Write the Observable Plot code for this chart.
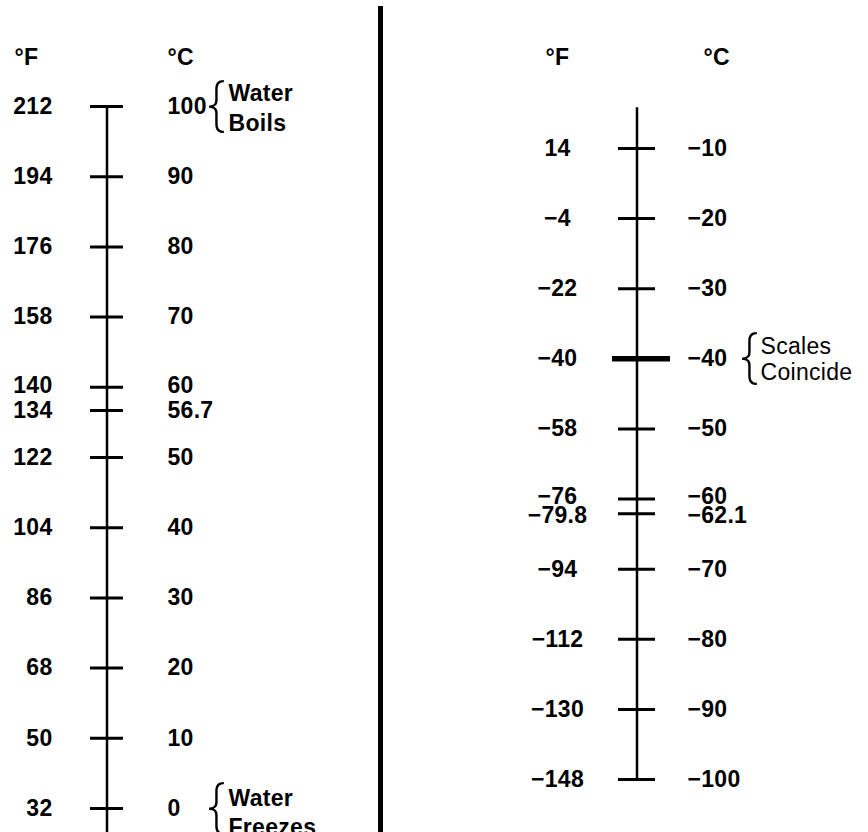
<!DOCTYPE html>
<html><head><meta charset="utf-8">
<script src="https://cdn.jsdelivr.net/npm/d3@7"></script>
<script src="https://cdn.jsdelivr.net/npm/@observablehq/plot@0.6"></script>
<style>
html,body{margin:0;padding:0;background:#fff;}
#wrap{position:relative;width:868px;height:832px;overflow:hidden;background:#fff;}
#left,#right{position:absolute;top:0;}
#left{left:0;z-index:2;}
#right{left:380px;z-index:1;}
</style></head><body><div id="wrap"><div id="left"></div><div id="right"></div></div>
<script>
const leftFahrenheit = [212, 194, 176, 158, 140, 134, 122, 104, 86, 68, 50, 32];
const leftCelsius = [100, 90, 80, 70, 60, 56.7, 50, 40, 30, 20, 10, 0];
const rightFahrenheit = [14, -4, -22, -40, -58, -76, -79.8, -94, -112, -130, -148];
const rightCelsius = [-10, -20, -30, -40, -50, -60, -62.1, -70, -80, -90, -100];
const leftScaleExtent = [100, -3.5];
const rightScaleExtent = [-4.2, -100];
const leftNotes = [{c: 100, text: "Water\nBoils"}, {c: 0, text: "Water\nFreezes"}];
const rightNotes = [{c: -40, text: "Scales\nCoincide"}];
const coincide = [-40];
const unitLabels = ["°F", "°C"];

const fmt = d => String(d).replace("-", "\u2212");
const font = "'Liberation Sans', Arial, Helvetica, sans-serif";
const baseStyle = {fontFamily: font, fontSize: "23px", fontWeight: "bold", letterSpacing: "0.3px", color: "#000", background: "transparent", overflow: "visible"};
const braceOpts = {text: () => "{", frameAnchor: "right", textAnchor: "middle", fontSize: 58, fontWeight: 200, fontFamily: "Inter, 'Open Sans', 'DejaVu Sans'", fill: "#000"};

// labels of closely spaced ticks are nudged apart slightly, as in the original
const leftNudge = c => (c === 60 ? -2 : 0);
const rightNudge = c => (c === -60 ? -2 : c === -62.1 ? 2 : 0);

function labelMarks(values, labelOf, nudge, opts) {
  const groups = [...new Set(values.map(nudge))];
  return groups.map(n => Plot.text(values, {filter: d => nudge(d) === n, y: d => d, text: (d) => labelOf(d), dy: n, fill: "#000", ...opts}));
}

const left = Plot.plot({
  width: 384, height: 832,
  marginTop: 6, marginBottom: 0, marginLeft: 90, marginRight: 261,
  x: {domain: [-1, 1], axis: null},
  y: {domain: [0, 100], range: [808, 106], axis: null},
  style: baseStyle,
  marks: [
    Plot.ruleX([leftScaleExtent], {x: () => 0, y1: d => d[0], y2: d => d[1], stroke: "#000", strokeWidth: 2.5}),
    Plot.tickY(leftCelsius, {y: d => d, stroke: "#000", strokeWidth: 3}),
    ...labelMarks(leftCelsius, d => fmt(leftFahrenheit[leftCelsius.indexOf(d)]), leftNudge, {frameAnchor: "left", textAnchor: "end", dx: -38}),
    ...labelMarks(leftCelsius, d => fmt(d), leftNudge, {frameAnchor: "right", textAnchor: "start", dx: 44}),
    Plot.text([unitLabels[0]], {text: d => d, frameAnchor: "top-left", textAnchor: "start", lineAnchor: "middle", dx: -76, dy: 51, fill: "#000"}),
    Plot.text([unitLabels[1]], {text: d => d, frameAnchor: "top-right", textAnchor: "start", lineAnchor: "middle", dx: 44, dy: 51, fill: "#000"}),
    Plot.text(leftNotes, {y: d => d.c, dx: 93, ...braceOpts}),
    Plot.text(leftNotes, {filter: d => d.c > 50, y: d => d.c, text: d => d.text, frameAnchor: "right", textAnchor: "start", dx: 105, lineHeight: 1.3, fill: "#000"}),
    Plot.text(leftNotes, {filter: d => d.c <= 50, y: d => d.c, text: d => d.text, frameAnchor: "right", textAnchor: "start", dx: 105, dy: 3, lineHeight: 1.25, fill: "#000"}),
    Plot.ruleX([1], {x: d => d, dx: 257, stroke: "#000", strokeWidth: 5})
  ]
});
document.getElementById("left").appendChild(left);

const right = Plot.plot({
  width: 488, height: 832,
  marginTop: 0, marginBottom: 0, marginLeft: 238, marginRight: 213,
  x: {domain: [-1, 1], axis: null},
  y: {domain: [-100, -10], range: [779, 148], axis: null},
  style: baseStyle,
  marks: [
    Plot.ruleX([rightScaleExtent], {x: () => 0, y1: d => d[0], y2: d => d[1], stroke: "#000", strokeWidth: 2.5}),
    Plot.tickY(rightCelsius, {y: d => d, stroke: "#000", strokeWidth: 3}),
    Plot.tickY(coincide, {y: d => d, stroke: "#000", strokeWidth: 5.5, insetLeft: -6, insetRight: -15}),
    ...labelMarks(rightCelsius, d => fmt(rightFahrenheit[rightCelsius.indexOf(d)]), rightNudge, {frameAnchor: "left", textAnchor: "middle", dx: -61}),
    ...labelMarks(rightCelsius, d => fmt(d), rightNudge, {frameAnchor: "right", textAnchor: "start", dx: 32}),
    Plot.text([unitLabels[0]], {text: d => d, frameAnchor: "top-left", textAnchor: "middle", lineAnchor: "middle", dx: -61, dy: 57, fill: "#000"}),
    Plot.text([unitLabels[1]], {text: d => d, frameAnchor: "top-right", textAnchor: "start", lineAnchor: "middle", dx: 48, dy: 57, fill: "#000"}),
    Plot.text(rightNotes, {y: d => d.c, dx: 94, ...braceOpts}),
    Plot.text(rightNotes, {y: d => d.c, text: d => d.text, frameAnchor: "right", textAnchor: "start", dx: 105, lineHeight: 1.13, fontWeight: "normal", fill: "#000"})
  ]
});
document.getElementById("right").appendChild(right);
</script>
</body></html>
